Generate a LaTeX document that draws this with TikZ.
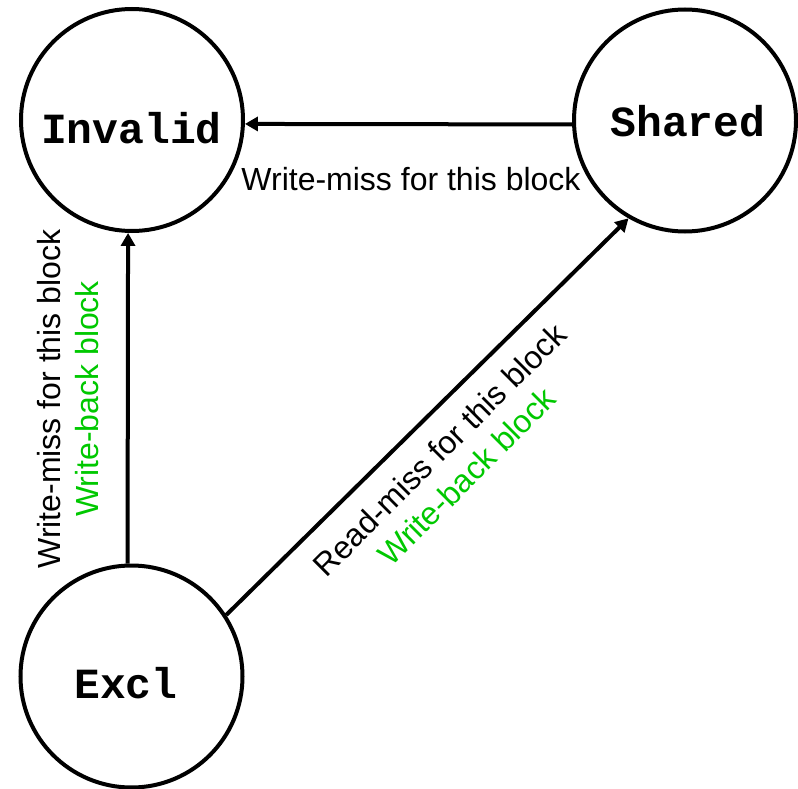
\documentclass[tikz,border=0pt]{standalone}
\usepackage{fontspec}
\setmainfont{Liberation Sans}
\newfontfamily\statefont{Liberation Mono}
\usetikzlibrary{arrows.meta}
\definecolor{wbgreen}{RGB}{0,200,0}
\tikzset{
  statecircle/.style={draw, circle, line width=4pt, minimum size=222pt, inner sep=0pt},
  statetext/.style={font=\statefont\bfseries\fontsize{43}{43}\selectfont, anchor=base, inner sep=0pt},
  conn/.style={line width=4pt, -{Triangle[length=13pt,width=14pt]}},
  lbl/.style={font=\fontsize{32}{38}\selectfont, align=center, inner sep=0pt}
}
\begin{document}
\begin{tikzpicture}[x=1pt,y=-1pt]
\useasboundingbox (0,0) rectangle (798,789);
\node[statecircle] (invalid) at (132,120) {};
\node[statecircle] (shared) at (685,120.5) {};
\node[statecircle] (excl) at (131.5,676.5) {};
\node[statetext] (invalidtxt) at (131.5,143) {Invalid};
\node[statetext] (sharedtxt) at (688,137) {Shared};
\node[statetext] (excltxt) at (126,698) {Excl};
\draw[conn] (shared.182) -- (invalid.-2);
\draw[conn] (excl.92) -- (invalid.268);
\draw[conn] (excl.33) -- (shared.240);
\node[lbl, anchor=base] (lbltop) at (411,190) {Write-miss for this block};
\node[lbl, rotate=90] (lblleft) at (68,399) {Write-miss for this block\\\textcolor{wbgreen}{Write-back block}};
\node[lbl, rotate=45] (lbldiag) at (453,463) {Read-miss for this block\\\textcolor{wbgreen}{Write-back block}};
\end{tikzpicture}
\end{document}
